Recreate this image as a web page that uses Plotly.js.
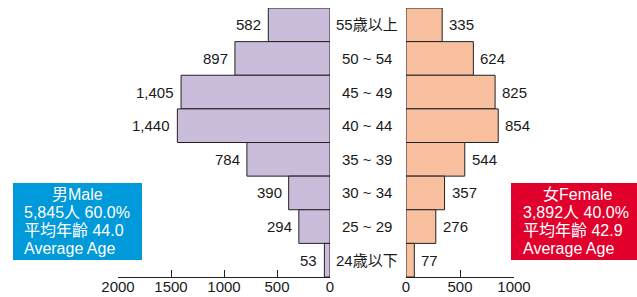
<!DOCTYPE html>
<html>
<head>
<meta charset="utf-8">
<script src="https://cdn.plot.ly/plotly-3.0.1.min.js"></script>
<style>html,body{margin:0;padding:0;background:#fff;}#chart{width:637px;height:297px;}</style>
</head>
<body>
<div id="chart"></div>
<script>
// ---- data ----
var categories = ['55歳以上', '50 ~ 54', '45 ~ 49', '40 ~ 44', '35 ~ 39', '30 ~ 34', '25 ~ 29', '24歳以下'];
var maleValues = [582, 897, 1405, 1440, 784, 390, 294, 53];
var femaleValues = [335, 624, 825, 854, 544, 357, 276, 77];
var maleTicks = [2000, 1500, 1000, 500, 0];
var femaleTicks = [0, 500, 1000];
var maleInfo = ['男Male', '5,845人 60.0%', '平均年齡 44.0', 'Average Age'];
var femaleInfo = ['女Female', '3,892人 40.0%', '平均年齡 42.9', 'Average Age'];

// ---- layout helpers ----
var W = 637, H = 297, MT = 8, MB = 20;
var PH = H - MT - MB;
function px(x) { return x / W; }
function py(y) { return (H - MB - y) / PH; }
var FONT = 'Liberation Sans, Arial, Noto Sans CJK JP, sans-serif';
function fmt(v) { return v.toLocaleString('en-US'); }

var traces = [
  {
    type: 'bar', orientation: 'h', x: maleValues, y: categories,
    xaxis: 'x', yaxis: 'y',
    marker: {color: '#c9bddb', line: {color: '#222', width: 1}},
    hoverinfo: 'none'
  },
  {
    type: 'bar', orientation: 'h', x: femaleValues, y: categories,
    xaxis: 'x2', yaxis: 'y',
    marker: {color: '#f9c0a0', line: {color: '#222', width: 1}},
    hoverinfo: 'none'
  }
];

var annotations = [];
categories.forEach(function (c, i) {
  annotations.push({
    x: maleValues[i], y: c, xref: 'x', yref: 'y', xanchor: 'right', yanchor: 'middle',
    xshift: -5, text: fmt(maleValues[i]), showarrow: false,
    font: {family: FONT, size: 15, color: '#1a1a1a'}
  });
  annotations.push({
    x: femaleValues[i], y: c, xref: 'x2', yref: 'y', xanchor: 'left', yanchor: 'middle',
    xshift: 5, text: fmt(femaleValues[i]), showarrow: false,
    font: {family: FONT, size: 15, color: '#1a1a1a'}
  });
  annotations.push({
    x: px(367.5), y: c, xref: 'paper', yref: 'y', xanchor: 'center', yanchor: 'middle',
    text: c, showarrow: false,
    font: {family: FONT, size: 15, color: '#1a1a1a'}
  });
});

var lineY = [194, 212, 230, 248];
function infoBox(lines, cx, lx) {
  lines.forEach(function (t, i) {
    annotations.push({
      x: i === 0 ? px(cx) : px(lx), y: py(lineY[i]), xref: 'paper', yref: 'paper',
      xanchor: i === 0 ? 'center' : 'left', yanchor: 'middle',
      text: t, showarrow: false, borderpad: 0, borderwidth: 0,
      font: {family: FONT, size: 16, color: '#ffffff'}
    });
  });
}
infoBox(maleInfo, 77, 24);
infoBox(femaleInfo, 577, 523);

var shapes = [
  {type: 'rect', xref: 'paper', yref: 'paper', x0: px(13), x1: px(142), y0: py(260), y1: py(183),
   fillcolor: '#0099d9', line: {width: 0}, layer: 'above'},
  {type: 'rect', xref: 'paper', yref: 'paper', x0: px(511), x1: px(637), y0: py(260), y1: py(183),
   fillcolor: '#e0002b', line: {width: 0}, layer: 'above'}
];

var axisCommon = {
  showgrid: false, zeroline: false, showline: true, linecolor: '#222', linewidth: 1,
  ticks: 'inside', ticklen: 7, tickcolor: '#222', tickwidth: 1,
  tickfont: {family: FONT, size: 15, color: '#1a1a1a'},
  ticklabelstandoff: -4,
  anchor: 'y', fixedrange: true
};

var layout = {
  width: W, height: H,
  margin: {l: 0, r: 0, t: MT, b: MB, pad: 0},
  paper_bgcolor: '#ffffff', plot_bgcolor: '#ffffff',
  showlegend: false, bargap: 0, barmode: 'overlay',
  xaxis: Object.assign({}, axisCommon, {
    domain: [px(118), px(330)], range: [2000, 0],
    tickmode: 'array', tickvals: maleTicks, ticktext: maleTicks.map(String)
  }),
  xaxis2: Object.assign({}, axisCommon, {
    domain: [px(406), px(514)], range: [0, 1000],
    tickmode: 'array', tickvals: femaleTicks, ticktext: femaleTicks.map(String)
  }),
  yaxis: {
    type: 'category', categoryorder: 'array', categoryarray: categories,
    range: [7.5, -0.5], showticklabels: false, showgrid: false, zeroline: false,
    showline: false, ticks: '', fixedrange: true
  },
  annotations: annotations,
  shapes: shapes
};

Plotly.newPlot('chart', traces, layout, {displayModeBar: false, staticPlot: true});
</script>
</body>
</html>
